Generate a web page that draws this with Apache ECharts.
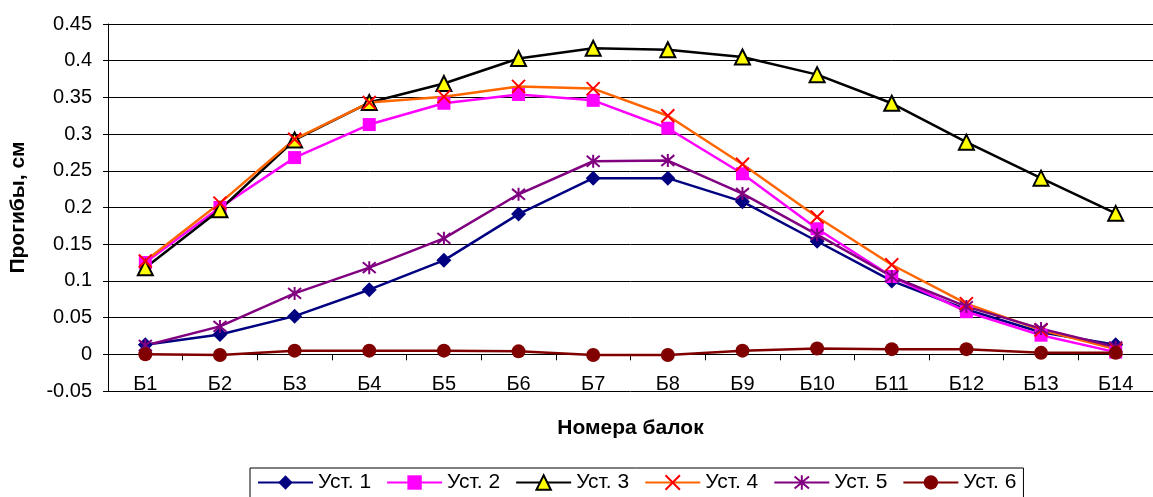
<!DOCTYPE html>
<html>
<head>
<meta charset="utf-8">
<script src="https://cdn.jsdelivr.net/npm/echarts@6/dist/echarts.min.js"></script>
<style>
html,body{margin:0;padding:0;background:#fff;}
#c{width:1153px;height:497px;}
</style>
</head>
<body>
<div id="c"></div>
<script>
const categories = ['Б1','Б2','Б3','Б4','Б5','Б6','Б7','Б8','Б9','Б10','Б11','Б12','Б13','Б14'];
const yTicks = [-0.05, 0, 0.05, 0.1, 0.15, 0.2, 0.25, 0.3, 0.35, 0.4, 0.45];
const ust1 = [0.013, 0.027, 0.052, 0.088, 0.128, 0.191, 0.240, 0.240, 0.208, 0.154, 0.100, 0.061, 0.030, 0.013];
const ust2 = [0.125, 0.200, 0.268, 0.313, 0.342, 0.354, 0.346, 0.308, 0.246, 0.171, 0.106, 0.058, 0.026, 0.003];
const ust3 = [0.118, 0.197, 0.292, 0.343, 0.369, 0.403, 0.417, 0.415, 0.405, 0.381, 0.342, 0.289, 0.240, 0.192];
const ust4 = [0.127, 0.206, 0.293, 0.343, 0.351, 0.365, 0.362, 0.325, 0.259, 0.187, 0.122, 0.069, 0.033, 0.007];
const ust5 = [0.012, 0.038, 0.083, 0.118, 0.158, 0.218, 0.263, 0.264, 0.219, 0.163, 0.106, 0.065, 0.035, 0.010];
const ust6 = [0.000, -0.001, 0.005, 0.005, 0.005, 0.004, -0.001, -0.001, 0.005, 0.008, 0.007, 0.007, 0.002, 0.002];
const names = ['Уст. 1','Уст. 2','Уст. 3','Уст. 4','Уст. 5','Уст. 6'];

const FONT = 'Arial, "Liberation Sans", sans-serif';
const xPath = 'path://M0,0L10,10M10,0L0,10';
const starPath = 'path://M0,0L10,10M10,0L0,10M5,-1L5,11';

function mk(name, data, lineColor, symbol, size, item) {
  return {
    name: name, type: 'line', data: data,
    symbol: symbol, symbolSize: size,
    lineStyle: {color: lineColor, width: 2.5},
    itemStyle: item,
    animation: false
  };
}

const chart = echarts.init(document.getElementById('c'));
chart.setOption({
  animation: false,
  textStyle: {fontFamily: FONT},
  grid: {left: 108, right: -11, top: 24, bottom: 106},
  xAxis: {
    type: 'category', data: categories, boundaryGap: true,
    axisLine: {onZero: true, lineStyle: {color: '#000', width: 1}},
    axisTick: {show: true, length: 6, inside: false, lineStyle: {color: '#000'}},
    axisLabel: {color: '#000', fontSize: 20, margin: -17, fontFamily: FONT},
    name: 'Номера балок', nameLocation: 'middle', nameGap: 27,
    nameTextStyle: {color: '#000', fontSize: 21, fontWeight: 'bold', fontFamily: FONT}
  },
  yAxis: {
    type: 'value', min: yTicks[0], max: yTicks[yTicks.length-1], interval: 0.05,
    axisLine: {show: true, lineStyle: {color: '#000', width: 1}},
    axisTick: {show: true, length: 5, lineStyle: {color: '#000'}},
    axisLabel: {color: '#000', fontSize: 20, margin: 16, fontFamily: FONT,
      formatter: v => String(+v.toFixed(2))},
    splitLine: {show: true, lineStyle: {color: '#000', width: 1}},
    name: 'Прогибы, см', nameLocation: 'middle', nameGap: 79,
    nameTextStyle: {color: '#000', fontSize: 21, fontWeight: 'bold', fontFamily: FONT}
  },
  legend: {
    top: 468, left: 250,
    data: names,
    itemWidth: 55, itemHeight: 18, itemGap: 15,
    borderColor: '#000', borderWidth: 1, borderRadius: 0,
    padding: [4, 7, 12, 7],
    textStyle: {color: '#000', fontSize: 21, fontFamily: FONT}
  },
  series: [
    mk(names[0], ust1, '#000080', 'diamond', 15, {color: '#000080'}),
    mk(names[1], ust2, '#FF00FF', 'rect', 13, {color: '#FF00FF'}),
    mk(names[2], ust3, '#000000', 'triangle', 15, {color: '#FFFF00', borderColor: '#000', borderWidth: 2}),
    mk(names[3], ust4, '#FF6600', xPath, 13, {color: '#FF0000', borderColor: '#FF0000', borderWidth: 2}),
    mk(names[4], ust5, '#800080', starPath, 13, {color: '#800080', borderColor: '#800080', borderWidth: 2}),
    mk(names[5], ust6, '#800000', 'circle', 14, {color: '#800000'})
  ]
});
</script>
</body>
</html>
